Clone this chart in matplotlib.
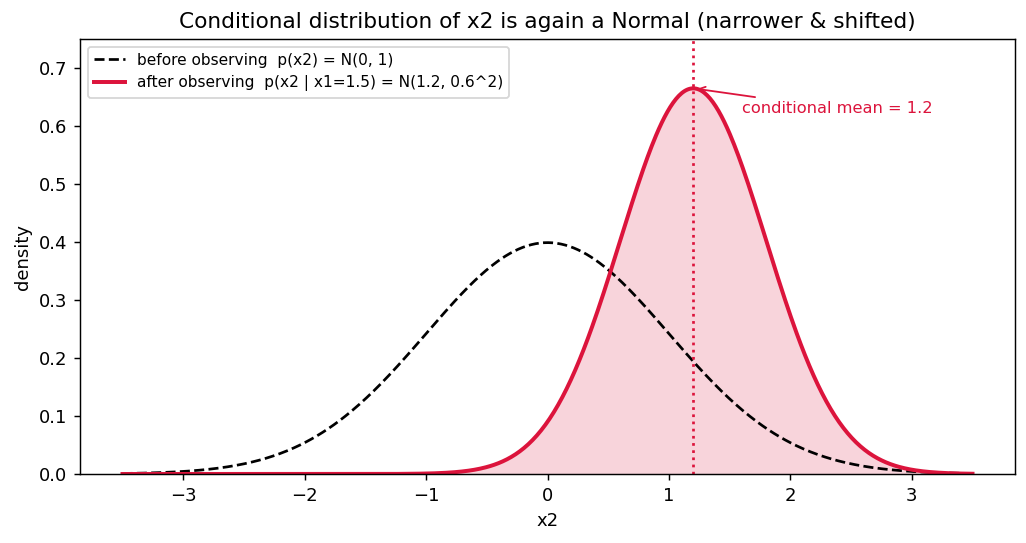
import numpy as np
import matplotlib
matplotlib.use("Agg")
import matplotlib.pyplot as plt

# distributions as stated in the legend
prior_mean, prior_sd = 0.0, 1.0
post_mean, post_sd = 1.2, 0.6
x_range = [-3.5, 3.5]


def normal_pdf(x, mu, sd):
    return np.exp(-0.5 * ((x - mu) / sd) ** 2) / (sd * np.sqrt(2 * np.pi))


x = np.linspace(x_range[0], x_range[1], 600)
prior = normal_pdf(x, prior_mean, prior_sd)
post = normal_pdf(x, post_mean, post_sd)
peak = normal_pdf(post_mean, post_mean, post_sd)

fig, ax = plt.subplots(figsize=(1026 / 130, 543 / 130), dpi=130)
fig.subplots_adjust(left=80 / 1026, right=1015 / 1026, top=1 - 39 / 543, bottom=1 - 474 / 543)
ax.plot(x, prior, 'k--', lw=1.5, label="before observing  p(x2) = N(0, 1)")
ax.plot(x, post, color='crimson', lw=2.2,
        label="after observing  p(x2 | x1=1.5) = N(1.2, 0.6^2)")
ax.fill_between(x, post, color='crimson', alpha=0.18, lw=0)
ax.axvline(post_mean, color='crimson', ls=':', lw=1.5)
ax.annotate("conditional mean = 1.2", xy=(post_mean, peak),
            xytext=(post_mean + 0.4, 0.622), color='crimson', fontsize=9,
            arrowprops=dict(arrowstyle='->', color='crimson', lw=1))
ax.set_ylim(0, 0.75)
ax.set_xlabel("x2")
ax.set_ylabel("density")
ax.set_title("Conditional distribution of x2 is again a Normal (narrower & shifted)")
ax.legend(loc='upper left', fontsize=8.5)
fig.savefig("out.png")
